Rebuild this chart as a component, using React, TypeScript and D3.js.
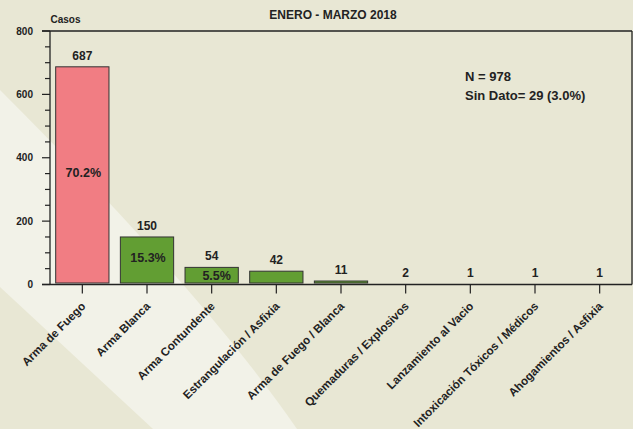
import React from "react";
import * as d3 from "d3";

const categories = [
  "Arma de Fuego",
  "Arma Blanca",
  "Arma Contundente",
  "Estrangulación / Asfixia",
  "Arma de Fuego / Blanca",
  "Quemaduras / Explosivos",
  "Lanzamiento al Vacio",
  "Intoxicación Tóxicos / Médicos",
  "Ahogamientos / Asfixia",
];
const values = [687, 150, 54, 42, 11, 2, 1, 1, 1];
const percentLabels = ["70.2%", "15.3%", "5.5%", "", "", "", "", "", ""];
const majorTicks = [0, 200, 400, 600, 800];
const minorTicks = d3.range(0, 801, 50);
const title = "ENERO - MARZO 2018";
const yTitle = "Casos";
const notes = ["N = 978", "Sin Dato= 29 (3.0%)"];

const W = 633;
const H = 429;
const FONT = "'Liberation Sans', Arial, Helvetica, sans-serif";
const BG = "#E8E7D4";
const LIGHT = "#F2F2E8";
const PINK = "#F17D83";
const GREEN = "#629E33";
const INK = "#222";

export default function App() {
  const left = 50;
  const right = 632;
  const top = 31;
  const bottom = 284.5;

  const x = d3
    .scaleBand<string>()
    .domain(categories)
    .range([left, right])
    .paddingInner(0.176)
    .paddingOuter(0.088);
  const y = d3.scaleLinear().domain([0, 800]).range([bottom, top]);

  const p = d3.path();
  p.moveTo(0, 90);
  p.quadraticCurveTo(204, 294, 297, H);
  p.lineTo(153, H);
  p.lineTo(0, 287);
  p.closePath();

  const barBase = y(0) - 1.5;

  return (
    <svg
      width={W}
      height={H}
      style={{ position: "absolute", left: 0, top: 0 }}
      fontFamily={FONT}
      fontWeight="bold"
    >
      <rect x={0} y={0} width={W} height={H} fill={BG} />
      <path d={p.toString()} fill={LIGHT} />

      {/* bars */}
      {categories.map((c, i) => {
        const yt = y(values[i]);
        const h = barBase - yt;
        if (h <= 0) return null;
        return (
          <rect
            key={c}
            x={x(c)!}
            y={yt}
            width={x.bandwidth()}
            height={h}
            fill={i === 0 ? PINK : GREEN}
            stroke="#333"
            strokeWidth={1}
          />
        );
      })}

      {/* axes frame */}
      <line x1={left} x2={left} y1={top} y2={bottom} stroke={INK} strokeWidth={1.3} />
      <line x1={42} x2={right} y1={bottom} y2={bottom} stroke={INK} strokeWidth={1.3} />
      <line x1={42} x2={right} y1={top} y2={top} stroke={INK} strokeWidth={1.3} />
      <line x1={right} x2={right} y1={top} y2={bottom} stroke={INK} strokeWidth={1.3} />

      {/* y ticks */}
      {minorTicks.map((t) => {
        const major = majorTicks.includes(t);
        return (
          <line
            key={"m" + t}
            x1={major ? 42 : 45}
            x2={left}
            y1={y(t)}
            y2={y(t)}
            stroke={INK}
            strokeWidth={1.2}
          />
        );
      })}
      {majorTicks.map((t) => (
        <text
          key={"t" + t}
          x={33}
          y={y(t)}
          dy="0.35em"
          textAnchor="end"
          fontSize={10}
          fill={INK}
        >
          {t}
        </text>
      ))}
      <text x={50.5} y={23} fontSize={10} fill={INK}>
        {yTitle}
      </text>

      {/* x ticks & labels */}
      {categories.map((c) => {
        const cx = x(c)! + x.bandwidth() / 2;
        return (
          <g key={"x" + c}>
            <line x1={cx} x2={cx} y1={bottom} y2={bottom + 9} stroke={INK} strokeWidth={1.2} />
            <text
              transform={`translate(${cx + 4},307) rotate(-45)`}
              textAnchor="end"
              fontSize={11.6}
              fill={INK}
            >
              {c}
            </text>
          </g>
        );
      })}

      {/* value labels */}
      {categories.map((c, i) => (
        <text
          key={"v" + c}
          x={x(c)! + x.bandwidth() / 2}
          y={y(values[i]) - 7}
          textAnchor="middle"
          fontSize={12}
          fill={INK}
        >
          {values[i]}
        </text>
      ))}

      {/* percent labels */}
      {categories.map((c, i) =>
        percentLabels[i] ? (
          <text
            key={"p" + c}
            x={x(c)! + x.bandwidth() / 2 + (i === 2 ? 5 : 1)}
            y={(y(values[i]) + barBase) / 2 + (i === 2 ? 5 : 2)}
            textAnchor="middle"
            fontSize={12.5}
            fill={INK}
          >
            {percentLabels[i]}
          </text>
        ) : null
      )}

      {/* title */}
      <text x={333} y={19} textAnchor="middle" fontSize={12} fill={INK}>
        {title}
      </text>

      {/* notes */}
      {notes.map((n, i) => (
        <text key={n} x={465} y={81 + i * 19} fontSize={13} fill={INK}>
          {n}
        </text>
      ))}
    </svg>
  );
}
